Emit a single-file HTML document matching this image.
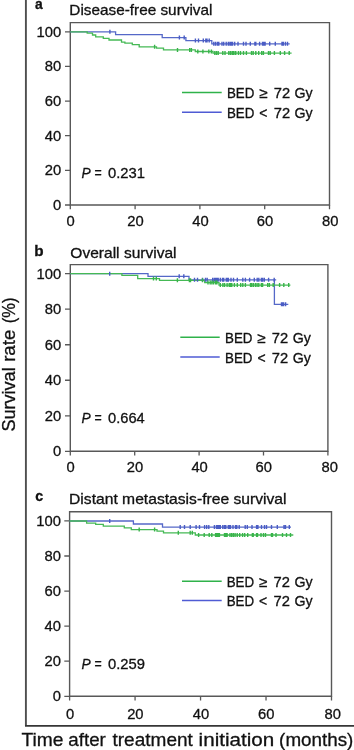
<!DOCTYPE html>
<html><head><meta charset="utf-8"><title>Survival curves</title>
<style>
html,body{margin:0;padding:0;background:#fff;width:354px;height:750px;overflow:hidden}
svg{display:block;will-change:transform}
svg text{font-family:"Liberation Sans", sans-serif;fill:#111;stroke:#111;stroke-width:0.3px}
</style></head><body>
<svg width="354" height="750" viewBox="0 0 354 750">
<path d="M25.9 0 V725.8" fill="none" stroke="#4e4e4e" stroke-width="1.9"/>
<path d="M25 725.8 H354" fill="none" stroke="#363636" stroke-width="1.8"/>
<path d="M70.3 22.6 H329.5 V205 H70.3 Z" fill="none" stroke="#585858" stroke-width="1.4"/>
<path d="M65 205 H70.3 M65 170.36 H70.3 M65 135.72 H70.3 M65 101.08 H70.3 M65 66.44 H70.3 M65 31.8 H70.3 M70.3 205 V209.3 M135.1 205 V209.3 M199.9 205 V209.3 M264.7 205 V209.3 M329.5 205 V209.3" fill="none" stroke="#585858" stroke-width="1.3"/>
<text x="53.05" y="209.8" font-size="15.4" textLength="8.22" lengthAdjust="spacingAndGlyphs">0</text>
<text x="44.83" y="175.16" font-size="15.4" textLength="16.44" lengthAdjust="spacingAndGlyphs">20</text>
<text x="44.83" y="140.52" font-size="15.4" textLength="16.44" lengthAdjust="spacingAndGlyphs">40</text>
<text x="44.83" y="105.88" font-size="15.4" textLength="16.44" lengthAdjust="spacingAndGlyphs">60</text>
<text x="44.83" y="71.24" font-size="15.4" textLength="16.44" lengthAdjust="spacingAndGlyphs">80</text>
<text x="36.61" y="36.6" font-size="15.4" textLength="24.67" lengthAdjust="spacingAndGlyphs">100</text>
<text x="66.59" y="225.8" font-size="15.4" textLength="8.22" lengthAdjust="spacingAndGlyphs">0</text>
<text x="127.19" y="225.8" font-size="15.4" textLength="16.44" lengthAdjust="spacingAndGlyphs">20</text>
<text x="192.2" y="225.8" font-size="15.4" textLength="16.44" lengthAdjust="spacingAndGlyphs">40</text>
<text x="256.79" y="225.8" font-size="15.4" textLength="16.44" lengthAdjust="spacingAndGlyphs">60</text>
<text x="321.95" y="225.8" font-size="15.4" textLength="16.44" lengthAdjust="spacingAndGlyphs">80</text>
<path d="M70.3 31.8 H115.6 V34.7 H162.2 V37.6 H185.9 V40.6 H211.8 V43.8 H289.7" fill="none" stroke="#5568c8" stroke-width="1.3"/>
<path d="M70.3 31.8 H87.2 V33.2 H92.5 V35 H95.7 V36.9 H103.3 V38.3 H109 V40 H121.5 V42.2 H124.9 V43.2 H132.3 V44.6 H139.2 V46.8 H156.5 V48.2 H163.5 V49.9 H195.3 V51.5 H213 V53.1 H291.6" fill="none" stroke="#45b955" stroke-width="1.3"/>
<path d="M109.9 29.8 V33.8 M179.4 35.6 V39.6 M184.2 35.6 V39.6 M195.4 38.6 V42.6 M198.5 38.6 V42.6 M203.3 38.6 V42.6 M205.8 38.6 V42.6 M207 38.6 V42.6 M209.2 38.6 V42.6 M213.8 41.8 V45.8 M215.6 41.8 V45.8 M217.5 41.8 V45.8 M218.8 41.8 V45.8 M222 41.8 V45.8 M223.7 41.8 V45.8 M226.2 41.8 V45.8 M228.3 41.8 V45.8 M229.9 41.8 V45.8 M231.3 41.8 V45.8 M232.6 41.8 V45.8 M234.7 41.8 V45.8 M238 41.8 V45.8 M243.5 41.8 V45.8 M246 41.8 V45.8 M250.3 41.8 V45.8 M254.9 41.8 V45.8 M255.8 41.8 V45.8 M259.6 41.8 V45.8 M262.5 41.8 V45.8 M263.8 41.8 V45.8 M265.1 41.8 V45.8 M269.7 41.8 V45.8 M275.3 41.8 V45.8 M282 41.8 V45.8 M283.3 41.8 V45.8 M285.4 41.8 V45.8 M287.5 41.8 V45.8" fill="none" stroke="#4a5cc4" stroke-width="1.4"/>
<path d="M154.6 44.8 V48.8 M177.5 47.9 V51.9 M189.7 47.9 V51.9 M191.4 47.9 V51.9 M197.8 49.5 V53.5 M202.9 49.5 V53.5 M208.8 49.5 V53.5 M211.4 49.5 V53.5 M214.8 51.1 V55.1 M216.5 51.1 V55.1 M218.2 51.1 V55.1 M222.8 51.1 V55.1 M225 51.1 V55.1 M228.8 51.1 V55.1 M230.5 51.1 V55.1 M232.2 51.1 V55.1 M233.4 51.1 V55.1 M235.1 51.1 V55.1 M235.8 51.1 V55.1 M238.4 51.1 V55.1 M240.5 51.1 V55.1 M243.5 51.1 V55.1 M246.4 51.1 V55.1 M251.5 51.1 V55.1 M253.2 51.1 V55.1 M255.8 51.1 V55.1 M258.7 51.1 V55.1 M261.7 51.1 V55.1 M263.4 51.1 V55.1 M268.5 51.1 V55.1 M270.2 51.1 V55.1 M274.4 51.1 V55.1 M280.3 51.1 V55.1 M284.6 51.1 V55.1 M289.2 51.1 V55.1" fill="none" stroke="#38b44a" stroke-width="1.4"/>
<path d="M182 92.5 H221.7" stroke="#2fb24a" stroke-width="1.5"/>
<path d="M182 112.3 H221.7" stroke="#4f5bd4" stroke-width="1.5"/>
<text x="226.91" y="98.3" font-size="14.5" textLength="27.43" lengthAdjust="spacingAndGlyphs">BED</text>
<text x="259.52" y="98.3" font-size="14.5" textLength="8.36" lengthAdjust="spacingAndGlyphs">≥</text>
<text x="273.74" y="98.3" font-size="14.5" textLength="16.4" lengthAdjust="spacingAndGlyphs">72</text>
<text x="294.59" y="98.3" font-size="14.5" textLength="18.14" lengthAdjust="spacingAndGlyphs">Gy</text>
<text x="226.91" y="117.9" font-size="14.5" textLength="27.43" lengthAdjust="spacingAndGlyphs">BED</text>
<text x="259.31" y="117.9" font-size="14.5" textLength="8.17" lengthAdjust="spacingAndGlyphs">&lt;</text>
<text x="273.74" y="117.9" font-size="14.5" textLength="16.4" lengthAdjust="spacingAndGlyphs">72</text>
<text x="294.59" y="117.9" font-size="14.5" textLength="18.14" lengthAdjust="spacingAndGlyphs">Gy</text>
<text x="81.58" y="177.8" font-size="14.5" font-style="italic" textLength="9.21" lengthAdjust="spacingAndGlyphs">P</text>
<text x="94.4" y="177.8" font-size="14.5" textLength="7.21" lengthAdjust="spacingAndGlyphs">=</text>
<text x="108.02" y="177.8" font-size="14.5" textLength="37" lengthAdjust="spacingAndGlyphs">0.231</text>
<text x="34.89" y="9.2" font-size="15" font-weight="bold" textLength="7.72" lengthAdjust="spacingAndGlyphs">a</text>
<text x="69.34" y="15.3" font-size="14.5" textLength="143.08" lengthAdjust="spacingAndGlyphs">Disease-free survival</text>
<path d="M70.3 264.6 H327.9 V451.3 H70.3 Z" fill="none" stroke="#585858" stroke-width="1.4"/>
<path d="M65 451.3 H70.3 M65 415.78 H70.3 M65 380.26 H70.3 M65 344.74 H70.3 M65 309.22 H70.3 M65 273.7 H70.3 M70.3 451.3 V455.6 M134.7 451.3 V455.6 M199.1 451.3 V455.6 M263.5 451.3 V455.6 M327.9 451.3 V455.6" fill="none" stroke="#585858" stroke-width="1.3"/>
<text x="53.05" y="456.1" font-size="15.4" textLength="8.22" lengthAdjust="spacingAndGlyphs">0</text>
<text x="44.83" y="420.58" font-size="15.4" textLength="16.44" lengthAdjust="spacingAndGlyphs">20</text>
<text x="44.83" y="385.06" font-size="15.4" textLength="16.44" lengthAdjust="spacingAndGlyphs">40</text>
<text x="44.83" y="349.54" font-size="15.4" textLength="16.44" lengthAdjust="spacingAndGlyphs">60</text>
<text x="44.83" y="314.02" font-size="15.4" textLength="16.44" lengthAdjust="spacingAndGlyphs">80</text>
<text x="36.61" y="278.5" font-size="15.4" textLength="24.67" lengthAdjust="spacingAndGlyphs">100</text>
<text x="66.59" y="472.2" font-size="15.4" textLength="8.22" lengthAdjust="spacingAndGlyphs">0</text>
<text x="126.79" y="472.2" font-size="15.4" textLength="16.44" lengthAdjust="spacingAndGlyphs">20</text>
<text x="191.4" y="472.2" font-size="15.4" textLength="16.44" lengthAdjust="spacingAndGlyphs">40</text>
<text x="255.59" y="472.2" font-size="15.4" textLength="16.44" lengthAdjust="spacingAndGlyphs">60</text>
<text x="321.45" y="472.2" font-size="15.4" textLength="16.44" lengthAdjust="spacingAndGlyphs">80</text>
<path d="M70.3 273.7 H148 V276.3 H189 V279.8 H274.4 V304.3 H288.3 M274.4 279.8 H276.2" fill="none" stroke="#5568c8" stroke-width="1.3"/>
<path d="M70.3 273.7 H121.9 V275.3 H137.7 V278.6 H159.5 V280.3 H204.7 V282.6 H219 V285.1 H290.4" fill="none" stroke="#45b955" stroke-width="1.3"/>
<path d="M109.7 271.7 V275.7 M179.2 274.3 V278.3 M183.8 274.3 V278.3 M194.5 277.8 V281.8 M197.5 277.8 V281.8 M202.5 277.8 V281.8 M205.5 277.8 V281.8 M207.2 277.8 V281.8 M212.7 277.8 V281.8 M214.4 277.8 V281.8 M215.7 277.8 V281.8 M216.9 277.8 V281.8 M218.2 277.8 V281.8 M220.3 277.8 V281.8 M222.5 277.8 V281.8 M223.7 277.8 V281.8 M226.3 277.8 V281.8 M227.1 277.8 V281.8 M228.4 277.8 V281.8 M231 277.8 V281.8 M233.5 277.8 V281.8 M237.3 277.8 V281.8 M242.8 277.8 V281.8 M245.4 277.8 V281.8 M249.6 277.8 V281.8 M254.3 277.8 V281.8 M257.2 277.8 V281.8 M258.8 277.8 V281.8 M261.4 277.8 V281.8 M262.6 277.8 V281.8 M264.3 277.8 V281.8 M268.6 277.8 V281.8 M274.2 277.8 V281.8 M281.5 302.3 V306.3 M282.4 302.3 V306.3 M283.6 302.3 V306.3 M285.6 302.3 V306.3" fill="none" stroke="#4a5cc4" stroke-width="1.4"/>
<path d="M153.5 276.6 V280.6 M156.3 276.6 V280.6 M177.4 278.3 V282.3 M189.4 278.3 V282.3 M190.5 278.3 V282.3 M202.5 278.3 V282.3 M208 280.6 V284.6 M210.2 280.6 V284.6 M211.9 280.6 V284.6 M213.6 280.6 V284.6 M215.7 280.6 V284.6 M216.9 280.6 V284.6 M220.3 283.1 V287.1 M222.9 283.1 V287.1 M224.6 283.1 V287.1 M227.1 283.1 V287.1 M229.2 283.1 V287.1 M230.5 283.1 V287.1 M231.8 283.1 V287.1 M234.4 283.1 V287.1 M237.3 283.1 V287.1 M240.7 283.1 V287.1 M242.8 283.1 V287.1 M245.4 283.1 V287.1 M250.5 283.1 V287.1 M251.7 283.1 V287.1 M253.4 283.1 V287.1 M255.4 283.1 V287.1 M257.1 283.1 V287.1 M258.8 283.1 V287.1 M261.4 283.1 V287.1 M262.6 283.1 V287.1 M267.7 283.1 V287.1 M269.4 283.1 V287.1 M273.2 283.1 V287.1 M279.6 283.1 V287.1 M283.8 283.1 V287.1 M288.7 283.1 V287.1" fill="none" stroke="#38b44a" stroke-width="1.4"/>
<path d="M180.3 337.2 H219.7" stroke="#2fb24a" stroke-width="1.5"/>
<path d="M180.3 357 H219.7" stroke="#4f5bd4" stroke-width="1.5"/>
<text x="225.01" y="343" font-size="14.5" textLength="27.43" lengthAdjust="spacingAndGlyphs">BED</text>
<text x="257.62" y="343" font-size="14.5" textLength="8.36" lengthAdjust="spacingAndGlyphs">≥</text>
<text x="271.84" y="343" font-size="14.5" textLength="16.4" lengthAdjust="spacingAndGlyphs">72</text>
<text x="292.69" y="343" font-size="14.5" textLength="18.14" lengthAdjust="spacingAndGlyphs">Gy</text>
<text x="225.01" y="362.8" font-size="14.5" textLength="27.43" lengthAdjust="spacingAndGlyphs">BED</text>
<text x="257.41" y="362.8" font-size="14.5" textLength="8.17" lengthAdjust="spacingAndGlyphs">&lt;</text>
<text x="271.84" y="362.8" font-size="14.5" textLength="16.4" lengthAdjust="spacingAndGlyphs">72</text>
<text x="292.69" y="362.8" font-size="14.5" textLength="18.14" lengthAdjust="spacingAndGlyphs">Gy</text>
<text x="81.58" y="422.5" font-size="14.5" font-style="italic" textLength="9.21" lengthAdjust="spacingAndGlyphs">P</text>
<text x="94.4" y="422.5" font-size="14.5" textLength="7.21" lengthAdjust="spacingAndGlyphs">=</text>
<text x="108.03" y="422.5" font-size="14.5" textLength="36.7" lengthAdjust="spacingAndGlyphs">0.664</text>
<text x="34.29" y="256.3" font-size="15" font-weight="bold" textLength="9.33" lengthAdjust="spacingAndGlyphs">b</text>
<text x="70.36" y="257.5" font-size="14.5" textLength="106.17" lengthAdjust="spacingAndGlyphs">Overall survival</text>
<path d="M69.6 511.8 H331.5 V696.3 H69.6 Z" fill="none" stroke="#585858" stroke-width="1.4"/>
<path d="M64.3 696.3 H69.6 M64.3 661.22 H69.6 M64.3 626.14 H69.6 M64.3 591.06 H69.6 M64.3 555.98 H69.6 M64.3 520.9 H69.6 M69.6 696.3 V700.6 M135.07 696.3 V700.6 M200.55 696.3 V700.6 M266.02 696.3 V700.6 M331.5 696.3 V700.6" fill="none" stroke="#585858" stroke-width="1.3"/>
<text x="52.75" y="701.1" font-size="15.4" textLength="8.22" lengthAdjust="spacingAndGlyphs">0</text>
<text x="44.53" y="666.02" font-size="15.4" textLength="16.44" lengthAdjust="spacingAndGlyphs">20</text>
<text x="44.53" y="630.94" font-size="15.4" textLength="16.44" lengthAdjust="spacingAndGlyphs">40</text>
<text x="44.53" y="595.86" font-size="15.4" textLength="16.44" lengthAdjust="spacingAndGlyphs">60</text>
<text x="44.53" y="560.78" font-size="15.4" textLength="16.44" lengthAdjust="spacingAndGlyphs">80</text>
<text x="36.31" y="525.7" font-size="15.4" textLength="24.67" lengthAdjust="spacingAndGlyphs">100</text>
<text x="65.89" y="719" font-size="15.4" textLength="8.22" lengthAdjust="spacingAndGlyphs">0</text>
<text x="127.17" y="719" font-size="15.4" textLength="16.44" lengthAdjust="spacingAndGlyphs">20</text>
<text x="192.85" y="719" font-size="15.4" textLength="16.44" lengthAdjust="spacingAndGlyphs">40</text>
<text x="258.12" y="719" font-size="15.4" textLength="16.44" lengthAdjust="spacingAndGlyphs">60</text>
<text x="324.55" y="719" font-size="15.4" textLength="16.44" lengthAdjust="spacingAndGlyphs">80</text>
<path d="M69.6 521 H133.4 V524 H162.5 V527.1 H291" fill="none" stroke="#5568c8" stroke-width="1.3"/>
<path d="M69.6 521 H86.6 V523.1 H95.7 V524.4 H103.3 V526.1 H124.3 V527.9 H131.3 V529.6 H157 V531.1 H163.5 V532.8 H195.3 V535 H293.3" fill="none" stroke="#45b955" stroke-width="1.3"/>
<path d="M109.7 519 V523 M180.2 525.1 V529.1 M184.5 525.1 V529.1 M190.2 525.1 V529.1 M196.1 525.1 V529.1 M199.5 525.1 V529.1 M204.6 525.1 V529.1 M206.7 525.1 V529.1 M208.8 525.1 V529.1 M214.4 525.1 V529.1 M216.5 525.1 V529.1 M217.7 525.1 V529.1 M219 525.1 V529.1 M220.3 525.1 V529.1 M222.8 525.1 V529.1 M224.5 525.1 V529.1 M225.8 525.1 V529.1 M228.3 525.1 V529.1 M229.6 525.1 V529.1 M230.5 525.1 V529.1 M233 525.1 V529.1 M235.5 525.1 V529.1 M236.8 525.1 V529.1 M239.2 525.1 V529.1 M245.2 525.1 V529.1 M247.3 525.1 V529.1 M252 525.1 V529.1 M256.6 525.1 V529.1 M257.9 525.1 V529.1 M261.5 525.1 V529.1 M264.5 525.1 V529.1 M266.5 525.1 V529.1 M271.5 525.1 V529.1 M277.3 525.1 V529.1 M284 525.1 V529.1 M285.5 525.1 V529.1 M289.3 525.1 V529.1" fill="none" stroke="#4a5cc4" stroke-width="1.4"/>
<path d="M139.2 527.6 V531.6 M154.6 527.6 V531.6 M178.3 530.8 V534.8 M190.2 530.8 V534.8 M192.3 530.8 V534.8 M198.6 533 V537 M204.2 533 V537 M209.2 533 V537 M211.8 533 V537 M215.6 533 V537 M216.9 533 V537 M218.2 533 V537 M219.4 533 V537 M224.5 533 V537 M225.8 533 V537 M227.1 533 V537 M230 533 V537 M231.7 533 V537 M233.4 533 V537 M235.1 533 V537 M237.2 533 V537 M239.7 533 V537 M242.6 533 V537 M244.7 533 V537 M247.7 533 V537 M252.4 533 V537 M253.2 533 V537 M256.6 533 V537 M257.5 533 V537 M261 533 V537 M263.5 533 V537 M265.5 533 V537 M271.5 533 V537 M272.5 533 V537 M276 533 V537 M282.5 533 V537 M286.5 533 V537 M290.5 533 V537" fill="none" stroke="#38b44a" stroke-width="1.4"/>
<path d="M182 581.2 H221.7" stroke="#2fb24a" stroke-width="1.5"/>
<path d="M182 600.5 H221.7" stroke="#4f5bd4" stroke-width="1.5"/>
<text x="226.71" y="586.7" font-size="14.5" textLength="27.43" lengthAdjust="spacingAndGlyphs">BED</text>
<text x="259.32" y="586.7" font-size="14.5" textLength="8.36" lengthAdjust="spacingAndGlyphs">≥</text>
<text x="273.54" y="586.7" font-size="14.5" textLength="16.4" lengthAdjust="spacingAndGlyphs">72</text>
<text x="294.39" y="586.7" font-size="14.5" textLength="18.14" lengthAdjust="spacingAndGlyphs">Gy</text>
<text x="226.71" y="606.3" font-size="14.5" textLength="27.43" lengthAdjust="spacingAndGlyphs">BED</text>
<text x="259.11" y="606.3" font-size="14.5" textLength="8.17" lengthAdjust="spacingAndGlyphs">&lt;</text>
<text x="273.54" y="606.3" font-size="14.5" textLength="16.4" lengthAdjust="spacingAndGlyphs">72</text>
<text x="294.39" y="606.3" font-size="14.5" textLength="18.14" lengthAdjust="spacingAndGlyphs">Gy</text>
<text x="81.58" y="668.6" font-size="14.5" font-style="italic" textLength="9.21" lengthAdjust="spacingAndGlyphs">P</text>
<text x="94.4" y="668.6" font-size="14.5" textLength="7.21" lengthAdjust="spacingAndGlyphs">=</text>
<text x="108.02" y="668.6" font-size="14.5" textLength="36.98" lengthAdjust="spacingAndGlyphs">0.259</text>
<text x="35.25" y="500.8" font-size="15" font-weight="bold" textLength="7.87" lengthAdjust="spacingAndGlyphs">c</text>
<text x="69.02" y="503.6" font-size="14.5" textLength="217.53" lengthAdjust="spacingAndGlyphs">Distant metastasis-free survival</text>
<text x="21.58" y="745.6" font-size="18.6" textLength="41.96" lengthAdjust="spacingAndGlyphs">Time</text>
<text x="68.3" y="745.6" font-size="18.6" textLength="37.51" lengthAdjust="spacingAndGlyphs">after</text>
<text x="112.51" y="745.6" font-size="18.6" textLength="80.33" lengthAdjust="spacingAndGlyphs">treatment</text>
<text x="198.62" y="745.6" font-size="18.6" textLength="75.72" lengthAdjust="spacingAndGlyphs">initiation</text>
<text x="279.13" y="745.6" font-size="18.6" textLength="74.23" lengthAdjust="spacingAndGlyphs">(months)</text>
<text transform="translate(15.0 800) rotate(-90)" x="368.38" y="0" font-size="18.6" textLength="64.33" lengthAdjust="spacingAndGlyphs">Survival</text>
<text transform="translate(15.0 800) rotate(-90)" x="438.16" y="0" font-size="18.6" textLength="32.17" lengthAdjust="spacingAndGlyphs">rate</text>
<text transform="translate(15.0 800) rotate(-90)" x="476.67" y="0" font-size="18.6" textLength="25.75" lengthAdjust="spacingAndGlyphs">(%)</text>
</svg>
</body></html>
